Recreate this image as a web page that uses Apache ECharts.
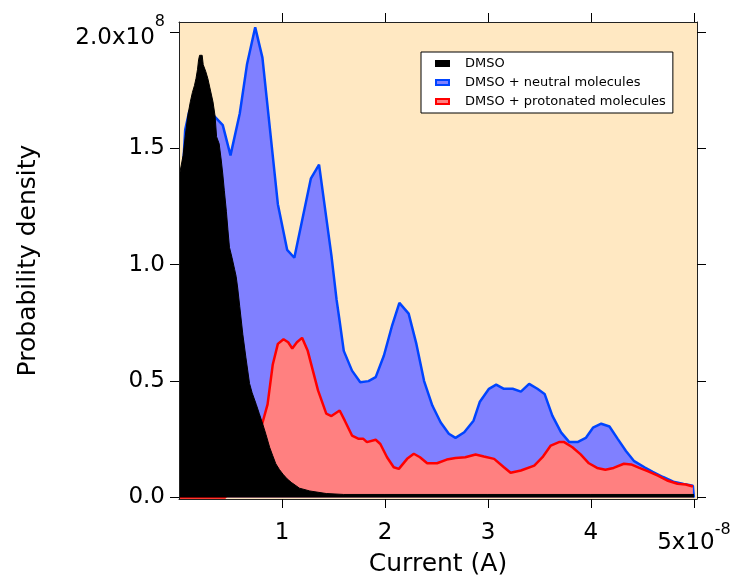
<!DOCTYPE html>
<html><head><meta charset="utf-8">
<script src="https://cdn.jsdelivr.net/npm/echarts@6/dist/echarts.min.js"></script>
<style>html,body{margin:0;padding:0;background:#fff}#c{width:734px;height:579px}</style>
</head><body><div id="c"></div>
<script>
// Units: current in 1e-8 A, probability density in 1e8
const seriesNames = ['DMSO', 'DMSO + neutral molecules', 'DMSO + protonated molecules'];
const xTickValues = [1, 2, 3, 4, 5];
const yTickValues = [0, 0.5, 1, 1.5, 2];

const dmsoX = [0.01,0.04,0.06,0.085,0.11,0.13,0.15,0.165,0.18,0.19,0.20,0.225,0.235,0.26,0.28,0.30,0.33,0.35,0.365,0.39,0.41,0.425,0.44,0.46,0.475,0.49,0.515,0.54,0.555,0.57,0.59,0.62,0.65,0.685,0.71,0.75,0.78,0.81,0.845,0.88,0.91,0.94,0.975,1.01,1.05,1.09,1.17,1.27,1.43,1.6,2.0,3.0,4.0,5.0];
const dmsoY = [1.40,1.47,1.55,1.64,1.70,1.74,1.77,1.80,1.84,1.88,1.90,1.90,1.86,1.83,1.80,1.76,1.70,1.64,1.55,1.52,1.45,1.39,1.32,1.23,1.15,1.075,1.03,0.98,0.95,0.90,0.82,0.70,0.60,0.49,0.45,0.40,0.36,0.32,0.27,0.216,0.18,0.145,0.12,0.10,0.08,0.065,0.04,0.028,0.017,0.013,0.013,0.013,0.013,0.013];

const neutralX = [0.03,0.06,0.10,0.20,0.34,0.425,0.50,0.59,0.66,0.74,0.81,0.96,1.05,1.12,1.28,1.36,1.48,1.53,1.556,1.60,1.68,1.76,1.84,1.91,1.99,2.07,2.14,2.23,2.305,2.38,2.46,2.54,2.62,2.685,2.77,2.86,2.92,3.01,3.08,3.155,3.24,3.32,3.40,3.48,3.55,3.625,3.71,3.79,3.87,3.95,4.02,4.10,4.18,4.26,4.34,4.42,4.52,4.60,4.70,4.80,4.90,4.99,5.00];
const neutralY = [1.34,1.58,1.66,1.65,1.64,1.60,1.47,1.65,1.86,2.02,1.89,1.26,1.064,1.03,1.37,1.43,1.04,0.85,0.77,0.63,0.545,0.495,0.50,0.517,0.61,0.74,0.836,0.79,0.66,0.50,0.395,0.323,0.274,0.256,0.28,0.33,0.41,0.467,0.485,0.467,0.467,0.455,0.488,0.467,0.445,0.352,0.28,0.238,0.238,0.256,0.30,0.317,0.305,0.252,0.20,0.156,0.13,0.11,0.088,0.068,0.058,0.05,0.0];

const protX = [0.00,0.45,0.50,0.60,0.70,0.81,0.86,0.91,0.96,1.015,1.06,1.10,1.145,1.195,1.25,1.30,1.35,1.43,1.48,1.56,1.61,1.68,1.745,1.79,1.825,1.91,1.955,2.02,2.085,2.135,2.215,2.28,2.34,2.41,2.505,2.60,2.685,2.78,2.88,2.96,3.06,3.155,3.22,3.32,3.45,3.53,3.61,3.69,3.74,3.82,3.90,3.98,4.06,4.14,4.22,4.32,4.39,4.47,4.55,4.65,4.74,4.84,4.92,4.99];
const protY = [0.0,0.0,0.08,0.16,0.24,0.32,0.40,0.57,0.66,0.68,0.667,0.64,0.667,0.686,0.63,0.545,0.46,0.36,0.35,0.374,0.33,0.266,0.252,0.252,0.238,0.248,0.23,0.173,0.13,0.123,0.166,0.188,0.173,0.147,0.147,0.163,0.17,0.173,0.185,0.176,0.166,0.13,0.106,0.116,0.137,0.173,0.223,0.238,0.238,0.216,0.185,0.147,0.127,0.119,0.127,0.145,0.142,0.127,0.113,0.094,0.073,0.059,0.056,0.047];

const zip = (xs, ys) => xs.map((x, i) => [x, ys[i]]);
const FONT = 'DejaVu Sans';
const frame = { show: true, lineStyle: { color: '#222', width: 1 }, onZero: false };
const tick = (vals) => ({ show: true, length: 9, lineStyle: { color: '#000', width: 1 }, customValues: vals });

const chart = echarts.init(document.getElementById('c'), null, { renderer: 'canvas' });
chart.setOption({
  animation: false,
  backgroundColor: '#ffffff',
  grid: { left: 179, right: 37, top: 22, bottom: 80, show: true, backgroundColor: '#FFE8C2', borderWidth: 0,
          containLabel: false, outerBoundsMode: 'none' },
  legend: {
    show: true, orient: 'vertical', left: 421, top: 52, z: 20,
    padding: [5, 7, 5, 14], itemGap: 6, itemWidth: 13, itemHeight: 5,
    backgroundColor: '#ffffff', borderColor: '#000', borderWidth: 1, borderRadius: 0,
    icon: 'rect',
    formatter: n => '{t|' + n + '}',
    textStyle: { color: '#000', fontFamily: FONT, fontSize: 13, lineHeight: 13,
      rich: { t: { fontFamily: FONT, fontSize: 13, lineHeight: 13, padding: [0, 0, 0, 11] } } },
    data: [
      { name: seriesNames[0], itemStyle: { color: '#000000', borderColor: '#000000', borderWidth: 2 } },
      { name: seriesNames[1], itemStyle: { color: '#8080FF', borderColor: '#0044FF', borderWidth: 2 } },
      { name: seriesNames[2], itemStyle: { color: '#FF8080', borderColor: '#FF0000', borderWidth: 2 } }
    ]
  },
  xAxis: [
    { type: 'value', position: 'bottom', min: 0, max: 5.03, z: 10,
      axisLine: frame, axisTick: tick(xTickValues), splitLine: { show: false },
      axisLabel: { show: true, customValues: xTickValues, margin: 23, color: '#000', fontFamily: FONT, fontSize: 23,
        formatter: v => { const r = Math.round(v * 10) / 10; return r === 5 ? '{a|5x10}{s|-8}' : String(r); },
        rich: { a: { fontFamily: FONT, fontSize: 23, color: '#000', padding: [10, 0, 0, 0] },
                s: { fontFamily: FONT, fontSize: 16, color: '#000', padding: [0, 0, 17, 0] } } },
      name: 'Current (A)', nameLocation: 'middle', nameGap: 53, nameMoveOverlap: false,
      nameTextStyle: { color: '#000', fontFamily: FONT, fontSize: 25 } },
    { type: 'value', position: 'top', min: 0, max: 5.03, z: 10,
      axisLine: frame, axisTick: tick(xTickValues), axisLabel: { show: false }, splitLine: { show: false } }
  ],
  yAxis: [
    { type: 'value', position: 'left', min: -0.0065, max: 2.043, z: 10,
      axisLine: frame, axisTick: tick(yTickValues), splitLine: { show: false },
      axisLabel: { show: true, customValues: yTickValues, margin: 14, color: '#000', fontFamily: FONT, fontSize: 23,
        formatter: v => Math.abs(v - 2) < 1e-9 ? '{a|2.0x10}{s|8}' : v.toFixed(1),
        rich: { a: { fontFamily: FONT, fontSize: 23, color: '#000', padding: [12, 0, 0, 0] },
                s: { fontFamily: FONT, fontSize: 16, color: '#000', padding: [0, 0, 20, 0] } } },
      name: 'Probability density', nameLocation: 'middle', nameGap: 138, nameRotate: 90, nameMoveOverlap: false,
      nameTextStyle: { color: '#000', fontFamily: FONT, fontSize: 25 } },
    { type: 'value', position: 'right', min: -0.0065, max: 2.043, z: 10,
      axisLine: frame, axisTick: tick(yTickValues), axisLabel: { show: false }, splitLine: { show: false } }
  ],
  series: [
    { name: seriesNames[1], type: 'line', z: 2, data: zip(neutralX, neutralY), showSymbol: false, symbol: 'none',
      lineStyle: { color: '#0044FF', width: 2.5 }, itemStyle: { color: '#0044FF' },
      areaStyle: { color: '#8080FF', opacity: 1 }, silent: true },
    { name: seriesNames[2], type: 'line', z: 3, data: zip(protX, protY), showSymbol: false, symbol: 'none',
      lineStyle: { color: '#FF0000', width: 2.5 }, itemStyle: { color: '#FF0000' },
      areaStyle: { color: '#FF8080', opacity: 1 }, silent: true },
    { name: seriesNames[0], type: 'line', z: 4, data: zip(dmsoX, dmsoY), showSymbol: false, symbol: 'none',
      lineStyle: { color: '#000000', width: 1 }, itemStyle: { color: '#000000' },
      areaStyle: { color: '#000000', opacity: 1 }, silent: true }
  ]
});
</script>
</body></html>
